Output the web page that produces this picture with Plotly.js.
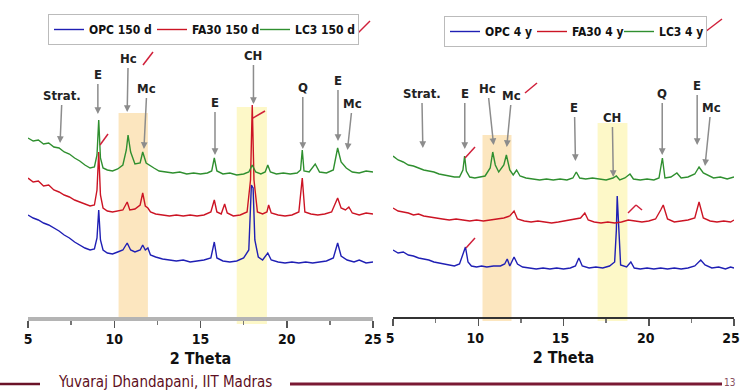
<!DOCTYPE html>
<html>
<head>
<meta charset="utf-8">
<script src="https://cdn.plot.ly/plotly-3.0.1.min.js"></script>
<style>html,body{margin:0;padding:0;background:#fff;}#chart{width:740px;height:392px;}</style>
</head>
<body>
<div id="chart"></div>
<script>
// ---------- DATA (2θ in degrees, intensity in arbitrary units, offset stacked) ----------
var tt_OPC150 = [5.0,5.3,5.6,5.9,6.2,6.5,6.8,7.1,7.4,7.7,8.0,8.3,8.6,8.85,9.0,9.1,9.2,9.35,9.6,9.9,10.2,10.5,10.75,10.95,11.2,11.5,11.65,11.8,11.95,12.1,12.4,12.8,13.2,13.6,14.0,14.4,14.8,15.2,15.6,15.8,15.95,16.3,16.7,17.1,17.5,17.8,17.95,18.05,18.15,18.35,18.6,18.9,19.1,19.5,19.9,20.3,20.7,21.1,21.5,21.9,22.3,22.7,22.95,23.15,23.5,23.9,24.2,24.6,25.0];
var int_OPC150 = [102,99,97,94,92,89,86,82,79,75,72,69,67,68,79,107,77,67,64,63,65,67,74,67,65,67,72,67,69,62,60,58,57,56,57,55,56,57,59,75,59,56,55,56,59,67,132,129,77,60,57,64,57,55,54,55,54,55,54,55,56,59,74,61,57,55,57,54,55];

var tt_FA150 = [5.0,5.3,5.6,5.9,6.2,6.5,6.8,7.1,7.4,7.7,8.0,8.3,8.6,8.85,9.0,9.1,9.2,9.35,9.6,9.9,10.2,10.5,10.75,10.9,11.2,11.5,11.65,11.8,11.95,12.1,12.4,12.8,13.2,13.6,14.0,14.4,14.8,15.2,15.6,15.8,15.95,16.2,16.4,16.55,16.9,17.3,17.7,17.9,18.0,18.1,18.3,18.6,18.85,18.95,19.1,19.5,19.9,20.3,20.7,20.9,21.05,21.4,21.8,22.2,22.6,22.95,23.15,23.4,23.6,23.8,24.2,24.6,25.0];
var int_FA150 = [139,135,136,131,132,127,125,122,120,117,115,113,111,112,127,165,122,109,106,105,106,107,115,107,108,112,124,111,109,105,103,102,101,102,101,102,101,102,105,117,105,103,113,104,101,102,105,137,212,137,105,103,105,112,104,102,101,102,105,139,105,103,102,103,105,119,109,107,110,104,102,104,103];

var tt_LC150 = [5.0,5.3,5.6,5.9,6.2,6.5,6.8,7.1,7.4,7.7,8.0,8.3,8.6,8.85,9.0,9.1,9.2,9.35,9.6,9.9,10.2,10.5,10.7,10.8,10.95,11.2,11.5,11.65,11.85,12.1,12.3,12.6,13.0,13.4,13.8,14.2,14.6,15.0,15.4,15.65,15.8,15.95,16.3,16.7,17.1,17.5,17.8,18.0,18.2,18.5,18.75,18.9,19.05,19.4,19.8,20.2,20.6,20.8,20.9,21.0,21.3,21.65,21.9,22.3,22.7,22.95,23.15,23.45,23.8,24.2,24.6,25.0];
var int_LC150 = [179,176,177,173,174,170,169,165,163,159,156,152,149,150,162,197,159,149,147,146,148,152,167,182,165,153,154,165,154,151,149,146,145,144,145,143,144,143,144,146,159,146,143,144,142,143,145,152,145,143,145,152,145,143,144,143,144,147,167,146,145,153,145,144,147,169,155,149,145,144,146,145];

var tt_OPC4 = [5.0,5.3,5.6,5.9,6.2,6.5,6.8,7.1,7.4,7.7,8.0,8.3,8.6,8.9,9.1,9.25,9.4,9.6,9.9,10.2,10.5,10.9,11.3,11.55,11.7,11.85,12.1,12.3,12.6,13.0,13.4,13.8,14.2,14.6,15.0,15.4,15.7,15.9,16.1,16.5,16.9,17.3,17.7,18.0,18.1,18.15,18.25,18.35,18.7,18.95,19.15,19.5,19.9,20.3,20.7,21.1,21.5,21.9,22.3,22.7,23.05,23.3,23.7,24.1,24.5,24.8,25.0];
var int_OPC4 = [67,64,65,62,61,59,58,57,55,54,53,52,51,53,62,70,55,51,50,51,50,51,51,53,58,51,60,53,50,49,48,49,48,49,48,49,51,59,51,49,50,49,51,55,87,121,77,52,50,55,49,48,49,48,49,48,49,48,49,51,57,52,49,50,48,50,49];

var tt_FA4 = [5.0,5.3,5.6,5.9,6.2,6.5,6.8,7.1,7.5,7.9,8.3,8.7,9.1,9.5,9.9,10.3,10.7,11.1,11.5,11.85,12.1,12.3,12.7,13.1,13.5,13.9,14.3,14.7,15.1,15.5,15.8,16.0,16.25,16.45,16.8,17.2,17.6,18.0,18.4,18.8,19.2,19.6,20.0,20.4,20.7,20.85,21.1,21.5,21.9,22.3,22.7,22.95,23.2,23.6,24.0,24.4,24.8,25.0];
var int_FA4 = [109,106,105,104,102,103,101,100,99,98,97,98,97,96,97,96,97,98,99,101,106,98,96,95,96,95,94,95,96,97,98,99,104,97,95,94,95,94,95,97,96,95,96,98,107,112,98,95,96,97,99,115,99,96,95,96,95,97];

var tt_LC4 = [5.0,5.3,5.6,5.9,6.2,6.5,6.8,7.1,7.4,7.7,8.0,8.3,8.6,8.9,9.1,9.2,9.3,9.5,9.8,10.1,10.4,10.7,10.85,11.0,11.2,11.5,11.65,11.85,12.05,12.25,12.45,12.8,13.2,13.6,14.0,14.4,14.8,15.2,15.55,15.75,15.95,16.3,16.7,17.1,17.5,17.9,18.1,18.3,18.6,18.9,19.1,19.5,19.9,20.3,20.6,20.8,20.95,21.3,21.65,21.9,22.3,22.7,22.95,23.2,23.45,23.8,24.2,24.6,25.0];
var int_LC4 = [161,157,155,152,151,149,147,146,145,143,142,141,140,140,147,161,146,140,139,140,141,149,165,152,145,152,162,147,142,147,141,139,138,137,138,137,138,137,139,145,139,138,139,138,137,139,141,137,139,143,138,137,138,137,139,159,139,140,144,139,140,143,150,144,142,139,140,138,140];

var seriesNames150 = ["OPC 150 d", "FA30 150 d", "LC3 150 d"];
var seriesNames4y = ["OPC 4 y", "FA30 4 y", "LC3 4 y"];
var phaseLabelsLeft = ["Strat.", "E", "Hc", "Mc", "E", "CH", "Q", "E", "Mc"];
var phaseLabelsRight = ["Strat.", "E", "Hc", "Mc", "E", "CH", "Q", "E", "Mc"];
var tickVals = [5, 10, 15, 20, 25];
var axisTitle = "2 Theta";
var footerText = "Yuvaraj Dhandapani, IIT Madras";
var slideNumber = "13";

// ---------- STYLE / LAYOUT ----------
var COL = {blue: "#1f1fb4", red: "#cc1424", green: "#2f8f2f"};
var FONT = "'DejaVu Sans Condensed', 'Liberation Sans Narrow', 'Liberation Sans', Arial, sans-serif";
var ML = 28, MR = 6, MT = 50, MB = 75, W = 740, H = 392;
var PW = W - ML - MR, PH = H - MT - MB;
function px2x(px) { return (px - ML) / PW; }
function py2y(py) { return (H - MB - py) / PH; }
function iy(py) { return (H - MB) - py; } // pixel row -> intensity scale value used by y axes

function tr(x, y, name, color, xa, ya, leg) {
  return {x: x, y: y, name: name, type: "scatter", mode: "lines",
    line: {color: color, width: 1.4}, xaxis: xa, yaxis: ya, legend: leg, hoverinfo: "skip"};
}
var data = [
  tr(tt_OPC150, int_OPC150, seriesNames150[0], COL.blue, "x", "y", "legend"),
  tr(tt_FA150, int_FA150, seriesNames150[1], COL.red, "x", "y", "legend"),
  tr(tt_LC150, int_LC150, seriesNames150[2], COL.green, "x", "y", "legend"),
  tr(tt_OPC4, int_OPC4, seriesNames4y[0], COL.blue, "x2", "y2", "legend2"),
  tr(tt_FA4, int_FA4, seriesNames4y[1], COL.red, "x2", "y2", "legend2"),
  tr(tt_LC4, int_LC4, seriesNames4y[2], COL.green, "x2", "y2", "legend2")
];

// phase label arrows: [2θ of arrow, arrowhead pixel row, text dx, text dy]
var arrowsLeft = [[6.86,143,2,-48],[9.05,114,0,-40],[10.75,112,1,-54],[11.72,149,3,-61],[15.84,155,0,-53],[18.07,104,0,-49],[20.93,149,0,-62],[22.97,141,0,-61],[23.52,150,5,-47]];
var arrowsRight = [[6.75,148,-1,-55],[9.21,149,0,-56],[10.9,145,-6,-57],[11.67,147,5,-52],[15.7,161,-1,-54],[17.92,177,-1,-60],[20.79,155,0,-62],[22.84,145,0,-60],[23.3,166,6,-59]];

var annotations = [];
function addArrows(list, labels, xr, yr) {
  list.forEach(function (a, i) {
    annotations.push({x: a[0], y: iy(a[1]), xref: xr, yref: yr, text: labels[i],
      showarrow: true, ax: a[2], ay: a[3], arrowcolor: "#8c8c8c", arrowwidth: 1.5, arrowhead: 2,
      arrowsize: 0.9, standoff: 0, startstandoff: 1,
      font: {family: FONT, size: 13, color: "#222", weight: "bold"}});
  });
}
addArrows(arrowsLeft, phaseLabelsLeft, "x", "y");
addArrows(arrowsRight, phaseLabelsRight, "x2", "y2");

annotations.push({xref: "paper", yref: "paper", x: px2x(165), y: py2y(382), text: footerText,
  showarrow: false, font: {family: FONT, size: 15, color: "#5e0f22"}, xanchor: "center", yanchor: "middle"});
annotations.push({xref: "paper", yref: "paper", x: px2x(729), y: py2y(382), text: slideNumber,
  showarrow: false, font: {family: FONT, size: 10, color: "#8a5060"}, xanchor: "center", yanchor: "middle"});

var shapes = [
  // highlight bands
  {type: "rect", xref: "x", yref: "paper", x0: 10.25, x1: 11.95, y0: py2y(321), y1: py2y(113), fillcolor: "#fce6bf", line: {width: 0}, layer: "below"},
  {type: "rect", xref: "x", yref: "paper", x0: 17.1, x1: 18.85, y0: py2y(324), y1: py2y(107), fillcolor: "#fdf8c8", line: {width: 0}, layer: "below"},
  {type: "rect", xref: "x2", yref: "paper", x0: 10.25, x1: 11.95, y0: py2y(321), y1: py2y(135), fillcolor: "#fce6bf", line: {width: 0}, layer: "below"},
  {type: "rect", xref: "x2", yref: "paper", x0: 17.0, x1: 18.75, y0: py2y(321), y1: py2y(123), fillcolor: "#fdf8c8", line: {width: 0}, layer: "below"},
  // footer rules
  {type: "line", xref: "paper", yref: "paper", x0: px2x(0), x1: px2x(40), y0: py2y(384), y1: py2y(384), line: {color: "#6a1228", width: 2.5}},
  {type: "line", xref: "paper", yref: "paper", x0: px2x(290), x1: px2x(722), y0: py2y(384), y1: py2y(384), line: {color: "#7a1a34", width: 3}}
];
// hand-drawn pen marks
var pen = [[358,33,370,21],[143,65,153,52],[100,145,108,134],[253,118,265,111],[705,32,722,19],[465,158,475,147],[525,93,537,83],[466,248,475,238],[628,213,636,205],[636,205,642,210]];
pen.forEach(function (p) {
  shapes.push({type: "line", xref: "paper", yref: "paper", x0: px2x(p[0]), y0: py2y(p[1]), x1: px2x(p[2]), y1: py2y(p[3]), line: {color: "#d0203a", width: 1.5}});
});

function xax(domain, lineColor, lineWidth, shift) {
  return {domain: domain, range: [5, 25], tickvals: tickVals, ticks: "outside", ticklen: 7, tickwidth: 1.5,
    tickcolor: "#555", showline: true, linecolor: lineColor, linewidth: lineWidth, showgrid: false, zeroline: false,
    minor: {dtick: 2.5, tick0: 5, ticks: "outside", ticklen: 4, tickcolor: "#777", showgrid: false},
    tickfont: {family: FONT, size: 14, color: "#111", weight: "bold"}, ticklabeloverflow: "allow", ticklabelshift: shift,
    title: {text: axisTitle, font: {family: FONT, size: 16, color: "#111", weight: "bold"}, standoff: 7},
    fixedrange: true, automargin: false};
}
var legFont = {family: FONT, size: 12, color: "#111", weight: "bold"};
var layout = {
  width: W, height: H, margin: {l: ML, r: MR, t: MT, b: MB, autoexpand: false}, paper_bgcolor: "#fff", plot_bgcolor: "rgba(0,0,0,0)",
  showlegend: true,
  xaxis: xax([0, px2x(373)], "#b4b4b4", 3.5, 0),
  xaxis2: xax([px2x(393), 1], "#333", 2, -3),
  yaxis: {range: [0, PH], visible: false, fixedrange: true, anchor: "x"},
  yaxis2: {range: [0, PH], visible: false, fixedrange: true, anchor: "x2"},
  legend: {orientation: "h", x: px2x(48), y: py2y(14), xanchor: "left", yanchor: "top", bgcolor: "#fff",
    bordercolor: "#bbb", borderwidth: 1, font: legFont, itemwidth: 30, entrywidth: 58, entrywidthmode: "pixels"},
  legend2: {orientation: "h", x: px2x(444), y: py2y(16), xanchor: "left", yanchor: "top", bgcolor: "#fff",
    bordercolor: "#bbb", borderwidth: 1, font: legFont, itemwidth: 30, entrywidth: 42, entrywidthmode: "pixels"},
  annotations: annotations, shapes: shapes
};
layout.xaxis.anchor = "y";
layout.xaxis2.anchor = "y2";
Plotly.newPlot("chart", data, layout, {displayModeBar: false, staticPlot: true});
</script>
</body>
</html>
